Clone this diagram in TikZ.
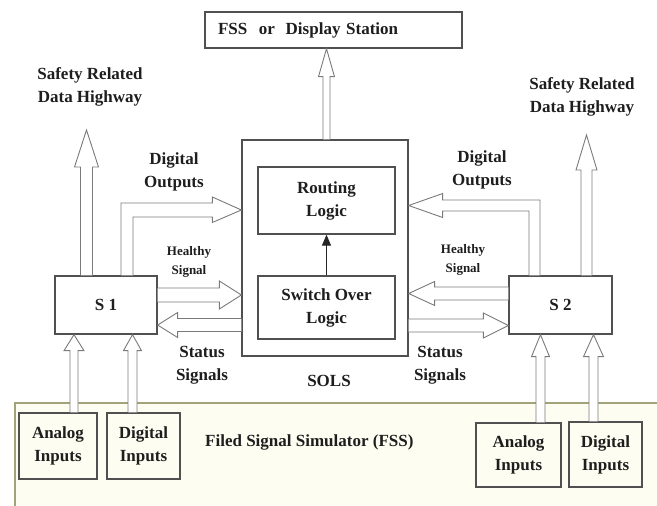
\documentclass[tikz,border=0pt]{standalone}
\usepackage{fontspec}
\setmainfont{Liberation Serif}
\usetikzlibrary{calc,arrows.meta}
\definecolor{boxc}{HTML}{505050}
\definecolor{arrc}{HTML}{7A7A7A}
\definecolor{txtc}{HTML}{1E1E1E}
\definecolor{fssbg}{HTML}{FEFDF1}
\definecolor{fssln}{HTML}{A3A37A}
\newcommand\mylbl{\fontsize{17}{23}\selectfont\bfseries}
\newcommand\mysmall{\fontsize{13}{19}\selectfont\bfseries}
% block arrow outline: #1 start, #2 tip, #3 half shaft, #4 half head, #5 head length
\newcommand\blockarr[5]{%
  \coordinate (bah) at ($(#2)!#5!(#1)$);
  \filldraw[arrline] ($(#1)!#3!90:(#2)$) -- ($(bah)!#3!90:(#2)$) -- ($(bah)!#4!90:(#2)$) -- (#2)
    -- ($(bah)!#4!-90:(#2)$) -- ($(bah)!#3!-90:(#2)$) -- ($(#1)!#3!-90:(#2)$);
}
\begin{document}
\begin{tikzpicture}[x=1pt,y=-1pt,
  box/.style={draw=boxc, line width=1.3pt, fill=white, align=center, font=\mylbl, text=txtc, inner sep=0pt},
  arrline/.style={draw=arrc, line width=0.9pt, fill=white, line join=miter},
  lbl/.style={font=\mylbl, text=txtc, align=center, inner sep=0pt},
  small/.style={font=\mysmall, text=txtc, align=center, inner sep=0pt}]
\path[use as bounding box, fill=white] (0,0) rectangle (657,506);

% Field signal simulator region
\fill[fssbg] (16,403) rectangle (657,506);
\draw[fssln, line width=1.3pt] (657,403) -- (15,403) -- (15,506);

% boxes
\node[box, minimum width=257pt, minimum height=36pt, text width=231pt, inner xsep=13pt, align=left] (fss) at (333.5,30) {FSS\hspace{0.35em} or\hspace{0.3em} Display Station};
\node[box, minimum width=166pt, minimum height=216pt] (sols) at (325,248) {};
\node[box, minimum width=137pt, minimum height=67pt] (route) at (326.5,200.5) {Routing\\Logic};
\node[box, minimum width=137pt, minimum height=63pt] (sw) at (326.5,307.5) {Switch Over\\Logic};
\node[box, minimum width=102pt, minimum height=58pt] (s1) at (106,305) {S 1};
\node[box, minimum width=103pt, minimum height=58pt] (s2) at (560.5,305) {S 2};
\node[box, fill=fssbg, minimum width=78pt, minimum height=66pt] (ai1) at (58,446) {Analog\\Inputs};
\node[box, fill=fssbg, minimum width=73pt, minimum height=66pt] (di1) at (143.5,446) {Digital\\Inputs};
\node[box, fill=fssbg, minimum width=85pt, minimum height=64pt] (ai2) at (518.5,455) {Analog\\Inputs};
\node[box, fill=fssbg, minimum width=73pt, minimum height=65pt] (di2) at (605.5,454.5) {Digital\\Inputs};

% labels
\node[lbl] (sh1) at (90,87) {Safety Related\\Data Highway};
\node[lbl] (sh2) at (582,97) {Safety Related\\Data Highway};
\node[lbl] (do1) at (174,172) {Digital\\Outputs};
\node[lbl] (do2) at (482,170) {Digital\\Outputs};
\node[small] (hs1) at (189,262) {Healthy\\Signal};
\node[small] (hs2) at (463,260) {Healthy\\Signal};
\node[lbl] (ss1) at (202,365) {Status\\Signals};
\node[lbl] (ss2) at (440,365) {Status\\Signals};
\node[lbl] (solsl) at (329,381) {SOLS};
\node[lbl, anchor=west] (fssl) at (205,442) {Filed Signal Simulator (FSS)};

% SOLS -> display station
\coordinate (up0) at ($(sols.north)+(1.5,0)$);
\coordinate (upt) at (up0 |- fss.south);
\blockarr{up0}{upt}{3.5pt}{8pt}{28pt}

% safety highways
\coordinate (sl0) at ($(s1.north)+(-19.5,0)$);
\coordinate (slt) at (86.5,130);
\blockarr{sl0}{slt}{6pt}{12pt}{37pt}
\coordinate (sr0) at ($(s2.north)+(26,0)$);
\coordinate (srt) at (586.5,135);
\blockarr{sr0}{srt}{5.5pt}{10.5pt}{35pt}

% digital outputs (elbow arrows)
\coordinate (dl0) at ($(s1.north)+(21,0)$);
\coordinate (dlt) at (sols.west |- 0,210);
\filldraw[arrline] ($(dl0)+(-6,0)$) |- ($(dlt)+(-29,-7)$) -- ++(0,-6) -- (dlt)
  -- ($(dlt)+(-29,12.5)$) -- ++(0,-5.5) -| ($(dl0)+(6,0)$);
\coordinate (dr0) at ($(s2.north)+(-26,0)$);
\coordinate (drt) at (sols.east |- 0,205.5);
\filldraw[arrline] ($(dr0)+(5.5,0)$) |- ($(drt)+(34,-5.5)$) -- ++(0,-6.5) -- (drt)
  -- ($(drt)+(34,12)$) -- ++(0,-6.5) -| ($(dr0)+(-5.5,0)$);

% healthy / status signals
\coordinate (h10) at ($(s1.east)+(0,-10)$);
\coordinate (h1t) at (sols.west |- h10);
\blockarr{h10}{h1t}{7pt}{14pt}{22pt}
\coordinate (t10) at ($(sols.west)+(0,77)$);
\coordinate (t1t) at (s1.east |- t10);
\blockarr{t10}{t1t}{6.5pt}{12.5pt}{20pt}
\coordinate (h20) at ($(s2.west)+(0,-11.5)$);
\coordinate (h2t) at (sols.east |- h20);
\blockarr{h20}{h2t}{6.5pt}{12pt}{26pt}
\coordinate (t20) at ($(sols.east)+(0,77.5)$);
\coordinate (t2t) at (s2.west |- t20);
\blockarr{t20}{t2t}{6.5pt}{12.5pt}{25pt}

% inputs
\coordinate (a10) at ($(ai1.north)+(16,0)$);
\coordinate (a1t) at (a10 |- s1.south);
\blockarr{a10}{a1t}{4pt}{10pt}{16pt}
\coordinate (d10) at ($(di1.north)+(-11,0)$);
\coordinate (d1t) at (d10 |- s1.south);
\blockarr{d10}{d1t}{4.5pt}{9pt}{16pt}
\coordinate (a20) at ($(ai2.north)+(22,0)$);
\coordinate (a2t) at (a20 |- s2.south);
\blockarr{a20}{a2t}{4.5pt}{9pt}{22pt}
\coordinate (d20) at ($(di2.north)+(-12,0)$);
\coordinate (d2t) at (d20 |- s2.south);
\blockarr{d20}{d2t}{4.5pt}{10pt}{22pt}

% switch over -> routing
\draw[-{Triangle[length=11pt,width=9pt]}, line width=1pt, black!85] (sw.north) -- (route.south);
\end{tikzpicture}
\end{document}
